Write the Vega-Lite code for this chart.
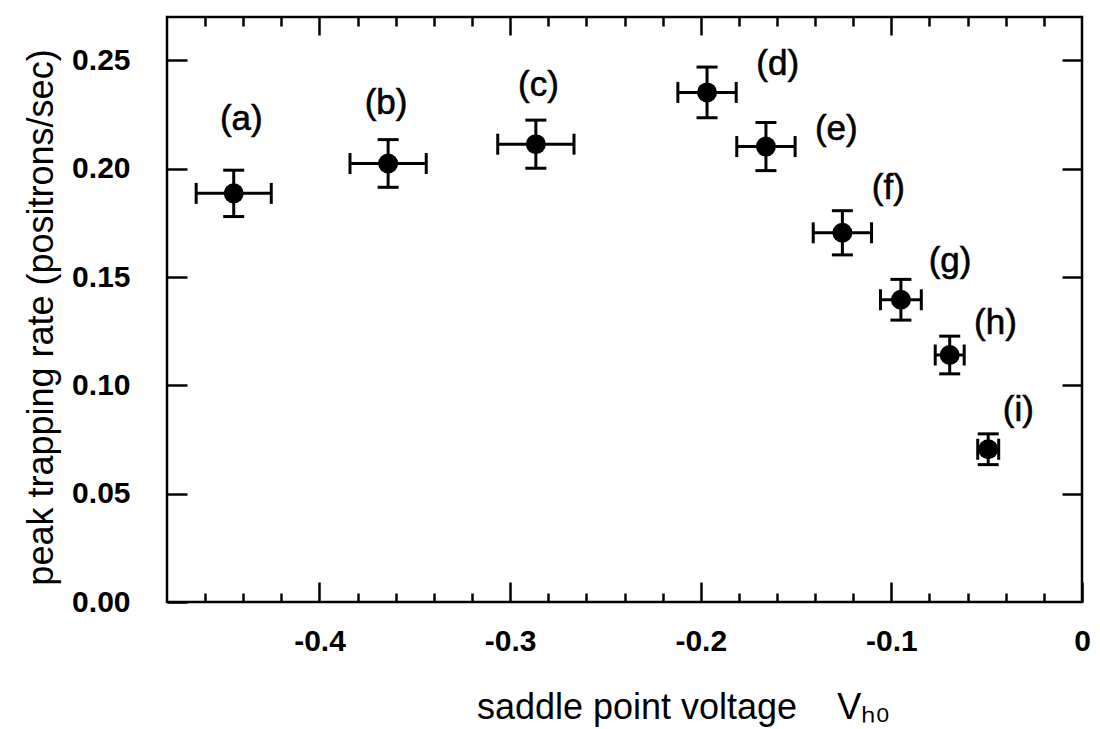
{
  "$schema": "https://vega.github.io/schema/vega-lite/v6.json",
  "width": 915,
  "height": 585,
  "autosize": {"type": "none"},
  "padding": {"left": 167, "top": 17, "right": 18, "bottom": 127},
  "background": "white",
  "config": {
    "view": {"stroke": "black", "strokeWidth": 2.5},
    "font": "Liberation Sans",
    "axis": {
      "grid": false,
      "domain": false,
      "tickColor": "black",
      "tickWidth": 2.5,
      "labelColor": "black",
      "titleColor": "black",
      "labelFont": "Liberation Sans",
      "titleFont": "Liberation Sans",
      "labelFlush": false,
      "labelOverlap": false
    }
  },
  "datasets": {
    "points": [
      {"id": "a", "v": -0.445, "v_err": 0.0197, "rate": 0.1886, "rate_err": 0.0107},
      {"id": "b", "v": -0.364, "v_err": 0.020, "rate": 0.2024, "rate_err": 0.011},
      {"id": "c", "v": -0.2865, "v_err": 0.020, "rate": 0.2113, "rate_err": 0.0111},
      {"id": "d", "v": -0.1967, "v_err": 0.0153, "rate": 0.2352, "rate_err": 0.0117},
      {"id": "e", "v": -0.1658, "v_err": 0.0153, "rate": 0.2102, "rate_err": 0.0111},
      {"id": "f", "v": -0.1257, "v_err": 0.0153, "rate": 0.1704, "rate_err": 0.0102},
      {"id": "g", "v": -0.095, "v_err": 0.0107, "rate": 0.1395, "rate_err": 0.0094},
      {"id": "h", "v": -0.0694, "v_err": 0.0076, "rate": 0.114, "rate_err": 0.0087},
      {"id": "i", "v": -0.0492, "v_err": 0.0055, "rate": 0.0705, "rate_err": 0.0071}
    ],
    "labels": [
      {"label": "(a)", "v": -0.441, "rate": 0.2227},
      {"label": "(b)", "v": -0.3651, "rate": 0.2305},
      {"label": "(c)", "v": -0.2851, "rate": 0.2386},
      {"label": "(d)", "v": -0.1596, "rate": 0.2481},
      {"label": "(e)", "v": -0.1289, "rate": 0.2181},
      {"label": "(f)", "v": -0.1016, "rate": 0.1911},
      {"label": "(g)", "v": -0.0692, "rate": 0.1576},
      {"label": "(h)", "v": -0.0454, "rate": 0.1288},
      {"label": "(i)", "v": -0.0334, "rate": 0.0885}
    ]
  },
  "data": {"name": "points"},
  "resolve": {"axis": {"x": "independent", "y": "independent"}},
  "layer": [
    {
      "mark": {"type": "errorbar", "ticks": {"color": "black", "opacity": 1}, "rule": {"color": "black", "opacity": 1}, "size": 21, "thickness": 3, "color": "black"},
      "encoding": {
        "x": {"field": "v", "type": "quantitative", "scale": {"domain": [-0.48, 0], "nice": false, "zero": false}, "axis": null},
        "xError": {"field": "v_err"},
        "y": {"field": "rate", "type": "quantitative", "scale": {"domain": [0, 0.27], "nice": false, "zero": false}, "axis": null}
      }
    },
    {
      "mark": {"type": "errorbar", "ticks": {"color": "black", "opacity": 1}, "rule": {"color": "black", "opacity": 1}, "size": 21, "thickness": 3, "color": "black"},
      "encoding": {
        "x": {"field": "v", "type": "quantitative", "scale": {"domain": [-0.48, 0], "nice": false, "zero": false}, "axis": null},
        "y": {"field": "rate", "type": "quantitative", "scale": {"domain": [0, 0.27], "nice": false, "zero": false}, "axis": null},
        "yError": {"field": "rate_err"}
      }
    },
    {
      "mark": {"type": "point", "filled": true, "shape": "circle", "size": 400, "color": "black", "opacity": 1},
      "encoding": {
        "x": {
          "field": "v", "type": "quantitative",
          "scale": {"domain": [-0.48, 0], "nice": false, "zero": false},
          "axis": {
            "orient": "bottom",
            "values": [-0.4, -0.3, -0.2, -0.1, 0],
            "tickSize": -20,
            "labelPadding": 44,
            "labelFontSize": 30,
            "labelFontWeight": "bold",
            "labelExpr": "replace(format(datum.value, '.1~f'), '\u2212', '-')",
            "title": "saddle point voltage\u00a0\u00a0\u00a0\u00a0V\u2095\u2080",
            "titleFontSize": 36,
            "titleFontWeight": "normal",
            "titleX": 516,
            "titleY": 116,
            "titleAlign": "center",
            "titleBaseline": "alphabetic"
          }
        },
        "y": {
          "field": "rate", "type": "quantitative",
          "scale": {"domain": [0, 0.27], "nice": false, "zero": false},
          "axis": {
            "orient": "left",
            "values": [0, 0.05, 0.1, 0.15, 0.2, 0.25],
            "format": ".2f",
            "tickSize": -20,
            "labelPadding": 57,
            "labelFontSize": 30,
            "labelFontWeight": "bold",
            "title": "peak trapping rate (positrons/sec)",
            "titleFontSize": 36,
            "titleFontWeight": "normal",
            "titleX": -126,
            "titleY": 300,
            "titleAngle": -90,
            "titleAlign": "center",
            "titleBaseline": "middle"
          }
        }
      }
    },
    {
      "data": {"name": "labels"},
      "mark": {"type": "text", "font": "Liberation Sans", "fontSize": 35, "align": "center", "baseline": "middle", "color": "black", "stroke": "black", "strokeWidth": 0.6},
      "encoding": {
        "x": {"field": "v", "type": "quantitative", "scale": {"domain": [-0.48, 0], "nice": false, "zero": false}, "axis": null},
        "y": {"field": "rate", "type": "quantitative", "scale": {"domain": [0, 0.27], "nice": false, "zero": false}, "axis": null},
        "text": {"field": "label"}
      }
    },
    {
      "mark": {"type": "point", "opacity": 0},
      "encoding": {
        "x": {
          "field": "v", "type": "quantitative",
          "scale": {"domain": [-0.48, 0], "nice": false, "zero": false},
          "axis": {"orient": "bottom", "values": [-0.46, -0.44, -0.42, -0.38, -0.36, -0.34, -0.32, -0.28, -0.26, -0.24, -0.22, -0.18, -0.16, -0.14, -0.12, -0.08, -0.06, -0.04, -0.02], "tickSize": -9, "labels": false, "title": null}
        },
        "y": {
          "field": "rate", "type": "quantitative",
          "scale": {"domain": [0, 0.27], "nice": false, "zero": false},
          "axis": {"orient": "right", "values": [0.05, 0.1, 0.15, 0.2, 0.25], "tickSize": -20, "labels": false, "title": null}
        }
      }
    },
    {
      "mark": {"type": "point", "opacity": 0},
      "encoding": {
        "x": {
          "field": "v", "type": "quantitative",
          "scale": {"domain": [-0.48, 0], "nice": false, "zero": false},
          "axis": {"orient": "top", "values": [-0.4, -0.3, -0.2, -0.1], "tickSize": -18, "labels": false, "title": null}
        },
        "y": {"field": "rate", "type": "quantitative", "scale": {"domain": [0, 0.27], "nice": false, "zero": false}, "axis": null}
      }
    },
    {
      "mark": {"type": "point", "opacity": 0},
      "encoding": {
        "x": {
          "field": "v", "type": "quantitative",
          "scale": {"domain": [-0.48, 0], "nice": false, "zero": false},
          "axis": {"orient": "top", "values": [-0.46, -0.44, -0.42, -0.38, -0.36, -0.34, -0.32, -0.28, -0.26, -0.24, -0.22, -0.18, -0.16, -0.14, -0.12, -0.08, -0.06, -0.04, -0.02], "tickSize": -9, "labels": false, "title": null}
        },
        "y": {"field": "rate", "type": "quantitative", "scale": {"domain": [0, 0.27], "nice": false, "zero": false}, "axis": null}
      }
    }
  ]
}
